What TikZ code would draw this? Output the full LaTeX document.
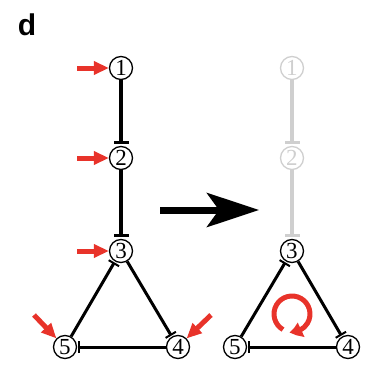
\documentclass[tikz,border=0pt]{standalone}
\usepackage{fontspec}
\setmainfont{Liberation Serif}
\newfontfamily\labelfont{Liberation Sans}
\usetikzlibrary{arrows.meta,bending}
\definecolor{sigred}{HTML}{E8332A}
\definecolor{fade}{HTML}{CFCFCF}
\tikzset{
  x=1pt,y=-1pt,
  gene/.style={circle,draw,line width=1.3pt,inner sep=0pt,minimum size=23pt,font=\fontsize{23}{23}\selectfont},
  inhib/.style={line width=3.6pt,-{Bar[width=15pt,line width=3.2pt]},shorten >=1.5pt},
  tinhib/.style={line width=3pt,-{Bar[width=12pt,line width=2pt]},shorten >=1pt},
  signal/.style={sigred,line width=5pt,-{Triangle[length=15pt,width=13pt]}},
}
\begin{document}
\begin{tikzpicture}
\useasboundingbox (0,0) rectangle (376,370);
\node[font=\labelfont\bfseries\fontsize{30}{30}\selectfont] (lab) at (27,25) {d};
% left network
\node[gene] (a1) at (121,68) {1};
\node[gene] (a2) at (121,158) {2};
\node[gene] (a3) at (121,251) {3};
\node[gene] (a5) at (65,347) {5};
\node[gene] (a4) at (178,347) {4};
\draw[inhib] (a1) -- (a2);
\draw[inhib] (a2) -- (a3);
\draw[tinhib] (a3) -- (a4);
\draw[tinhib] (a4) -- (a5);
\draw[tinhib] (a5) -- (a3);
% signals
\coordinate (s1) at (77,68);
\coordinate (s2) at (77,158);
\coordinate (s3) at (77,251);
\coordinate (s5) at (34,315);
\coordinate (s4) at (211,315);
\draw[signal] (s1) -- (a1.west);
\draw[signal] (s2) -- (a2.west);
\draw[signal] (s3) -- (a3.west);
\draw[signal] (s5) -- (a5.north west);
\draw[signal] (s4) -- (a4.north east);
% big arrow
\coordinate (bs) at (160,210);
\coordinate (be) at (259,210);
\draw[line width=7pt,-{Stealth[length=52pt,width=34pt,inset=12pt]}] (bs) -- (be);
% right network
\node[gene,draw=fade,text=fade] (b1) at (292,68) {1};
\node[gene,draw=fade,text=fade] (b2) at (292,158) {2};
\node[gene] (b3) at (292,251) {3};
\node[gene] (b5) at (235,347) {5};
\node[gene] (b4) at (348,347) {4};
\draw[inhib,fade] (b1) -- (b2);
\draw[inhib,fade] (b2) -- (b3);
\draw[tinhib] (b3) -- (b4);
\draw[tinhib] (b4) -- (b5);
\draw[tinhib] (b5) -- (b3);
% oscillation loop
\coordinate (oc) at (292,314);
\draw[sigred,line width=5pt,-{Triangle[length=12pt,width=15pt,bend]}]
  ([shift={(120:18)}]oc) arc[start angle=120,end angle=458,radius=18];
\end{tikzpicture}
\end{document}
